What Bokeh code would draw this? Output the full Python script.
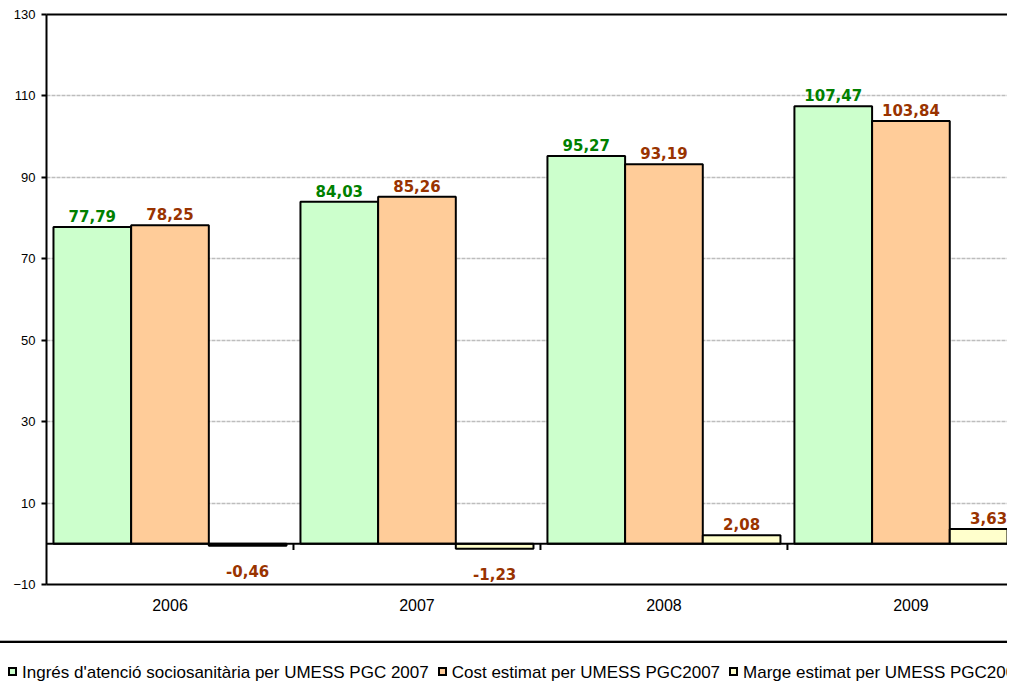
from bokeh.plotting import figure
from bokeh.layouts import column
from bokeh.models import (Range1d, FixedTicker, LinearAxis, Span, ColumnDataSource, Div)
from bokeh.core.properties import value
from bokeh.embed import file_html
from bokeh.resources import INLINE

# ---- data ----
years = ["2006", "2007", "2008", "2009"]
series_names = ["Ingrés d'atenció sociosanitària per UMESS PGC 2007",
                "Cost estimat per UMESS PGC2007",
                "Marge estimat per UMESS PGC2007"]
ingres = [77.79, 84.03, 95.27, 107.47]
cost = [78.25, 85.26, 93.19, 103.84]
marge = [-0.46, -1.23, 2.08, 3.63]
y_ticks = [-10, 10, 30, 50, 70, 90, 110, 130]

fills = ["#CCFFCC", "#FFCC99", "#FFFFCC"]
label_colors = ["#008000", "#993300", "#993300"]

bar_w = 0.3145

p = figure(width=1007, height=640, x_range=Range1d(0, 3.891), y_range=Range1d(-10, 130),
           output_backend="svg", toolbar_location=None,
           min_border_left=46, min_border_right=0, min_border_top=14, min_border_bottom=56)
p.outline_line_color = None
p.background_fill_color = "white"

# grid
p.xgrid.visible = False
p.ygrid.ticker = FixedTicker(ticks=y_ticks)
p.ygrid.grid_line_color = "#BDBDBD"
p.ygrid.grid_line_dash = "4 1"
p.ygrid.grid_line_width = 1.5

# y axis
ya = p.yaxis[0]
ya.ticker = FixedTicker(ticks=y_ticks)
ya.axis_line_width = 2
ya.axis_line_color = "black"
ya.major_tick_out = 5
ya.major_tick_in = 0
ya.major_tick_line_color = "black"
ya.major_tick_line_width = 2
ya.minor_tick_line_color = None
ya.major_label_text_font = "Liberation Sans"
ya.major_label_text_font_size = "13px"
ya.major_label_text_color = "black"
ya.major_label_standoff = 6

# x axis (category labels)
centers = [i + 0.5 for i in range(len(years))]
xa = p.xaxis[0]
xa.ticker = FixedTicker(ticks=centers)
xa.major_label_overrides = {c: y for c, y in zip(centers, years)}
xa.axis_line_width = 2
xa.axis_line_color = "black"
xa.major_tick_line_color = None
xa.minor_tick_line_color = None
xa.major_tick_out = 0
xa.major_tick_in = 0
xa.major_label_text_font = "Liberation Sans"
xa.major_label_text_font_size = "16px"
xa.major_label_text_color = "black"
xa.major_label_standoff = 14

# top border
top_axis = LinearAxis(ticker=FixedTicker(ticks=[]), axis_line_width=2, axis_line_color="black",
                      major_label_text_font_size="0px", major_tick_line_color=None,
                      minor_tick_line_color=None, major_tick_out=0, major_tick_in=0)
p.add_layout(top_axis, "above")

# bars
all_vals = [ingres, cost, marge]
for j, vals in enumerate(all_vals):
    xs = [i + 0.5 + (j - 1) * bar_w for i in range(len(years))]
    src = ColumnDataSource(dict(x=xs, top=vals))
    p.vbar(x="x", top="top", bottom=0, width=bar_w, source=src,
           fill_color=fills[j], line_color="black", line_width=2)
    pos = ColumnDataSource(dict(x=[x for x, v in zip(xs, vals) if v >= 0],
                                y=[v for v in vals if v >= 0],
                                lab=[f"{v:.2f}".replace(".", ",") for v in vals if v >= 0]))
    neg = ColumnDataSource(dict(x=[x for x, v in zip(xs, vals) if v < 0],
                                y=[v for v in vals if v < 0],
                                lab=[f"{v:.2f}".replace(".", ",") for v in vals if v < 0]))
    p.text(x="x", y="y", text="lab", source=pos, text_align="center",
           text_baseline="alphabetic", y_offset=-11,
           text_font=value("DejaVu Sans"), text_font_style="bold",
           text_font_size="15px", text_color=label_colors[j])
    p.text(x="x", y="y", text="lab", source=neg, text_align="center",
           text_baseline="alphabetic", y_offset=25,
           text_font=value("DejaVu Sans"), text_font_style="bold",
           text_font_size="15px", text_color=label_colors[j])

# zero line and category boundary ticks
p.add_layout(Span(location=0, dimension="width", line_color="black", line_width=2))
bounds = list(range(1, len(years) + 1))
p.segment(x0=bounds, y0=[0] * len(bounds), x1=bounds, y1=[-1.5] * len(bounds),
          line_color="black", line_width=2)

# legend strip (HTML, below the chart)
items_html = ""
for j, name in enumerate(series_names):
    ml = "8px" if j == 0 else "9px"
    items_html += (
        f'<span style="display:inline-block;box-sizing:border-box;width:9px;height:9px;'
        f'border:2px solid black;background:{fills[j]};margin-left:{ml};margin-right:5px;'
        f'vertical-align:middle;position:relative;top:-1px"></span>'
        f'<span style="vertical-align:middle">{name}</span>'
    )
legend_html = (
    '<div style="box-sizing:border-box;width:1007px;height:43px;overflow:hidden;'
    'border-top:1px solid #B0B0B0;">'
    '<div style="border-top:2px solid black;padding-top:19px;white-space:nowrap;'
    'font-family:\'Liberation Sans\',Arial,sans-serif;font-size:17px;line-height:20px;color:black;">'
    + items_html + '</div></div>'
)
legend_div = Div(text=legend_html, width=1007, height=43, margin=(0, 0, 0, 0),
                 styles={"overflow": "hidden"})

layout = column(p, legend_div, spacing=0)
open("out.html", "w").write(file_html(layout, INLINE))
